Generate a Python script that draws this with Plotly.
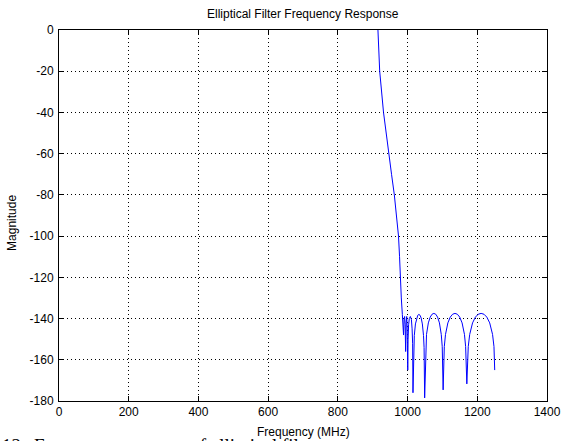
import plotly.graph_objects as go

# Frequency (MHz) and magnitude (dB)
freq_mhz = [
    915, 920, 931, 945, 954, 962, 968, 974, 977, 979, 982, 985,
    987, 988.5, 990, 991.5, 993, 994.5, 996, 997.5, 999, 1000.5,
    1001.5, 1003, 1005, 1008, 1011, 1013, 1014.5, 1015.5,
    1017.6, 1019.3, 1022.6, 1025.9, 1029.2, 1032.5, 1035.8, 1039.1, 1042.4, 1045.7, 1047.4, 1049,
    1051.7, 1054.3, 1059.6, 1064.9, 1070.2, 1075.5, 1080.8, 1086.1, 1091.4, 1096.7, 1099.4, 1102,
    1105.4, 1108.8, 1115.6, 1122.4, 1129.2, 1136, 1142.8, 1149.6, 1156.4, 1163.2, 1166.6, 1170,
    1174.1, 1178.2, 1186.4, 1194.6, 1202.8, 1211, 1219.2, 1227.4, 1235.6, 1243.8, 1247.9, 1250,
]
magnitude_db = [
    0, -20, -40, -60, -70, -80, -90, -100, -110, -120, -130, -138,
    -142, -148, -140, -139, -143, -156, -142, -139, -145, -165,
    -150, -143, -140, -139, -140.5, -145, -152, -176,
    -154, -148.2, -142.6, -139.8, -138.4, -138, -138.4, -139.8, -142.6, -148.2, -154.1, -178.5,
    -153.6, -147.7, -142.1, -139.3, -137.9, -137.5, -137.9, -139.3, -142.1, -147.7, -153.6, -174.6,
    -153.6, -147.7, -142.1, -139.3, -137.9, -137.5, -137.9, -139.3, -142.1, -147.7, -153.6, -171.7,
    -153.6, -147.7, -142.1, -139.3, -137.9, -137.5, -137.9, -139.3, -142.1, -147.7, -153.6, -165,
]

x_ticks = [0, 200, 400, 600, 800, 1000, 1200, 1400]
y_ticks = [0, -20, -40, -60, -80, -100, -120, -140, -160, -180]

title_text = "Elliptical Filter Frequency Response"
x_label = "Frequency (MHz)"
y_label = "Magnitude"
caption_num = "12."
caption_text = "Frequency response of elliptical filter"

FONT = "Liberation Sans, Arial, sans-serif"
SERIF = "Liberation Serif, Times New Roman, serif"

fig = go.Figure()
fig.add_trace(go.Scatter(
    x=freq_mhz, y=magnitude_db, mode="lines",
    line=dict(color="#0000ff", width=1),
    showlegend=False, hoverinfo="skip",
))

axis_common = dict(
    showline=True, linecolor="black", linewidth=1, mirror="allticks",
    ticks="inside", ticklen=5, tickcolor="black", tickwidth=1,
    showgrid=True, gridcolor="black", gridwidth=1, griddash="1px,3px",
    zeroline=False,
    tickfont=dict(family=FONT, size=12, color="black"),
)

fig.update_xaxes(range=[0, 1400], tickvals=x_ticks, ticktext=[str(v) for v in x_ticks],
                 **axis_common)
fig.update_yaxes(range=[-180, 0], tickvals=y_ticks, ticktext=[str(v) for v in y_ticks],
                 ticklabelstandoff=2, **axis_common)

fig.update_layout(
    width=573, height=441,
    margin=dict(l=59, r=15, t=30, b=40),
    paper_bgcolor="white", plot_bgcolor="white",
    font=dict(family=FONT, size=12, color="black"),
    annotations=[
        dict(text=title_text, xref="paper", yref="paper", x=0.5, y=1,
             yshift=16, xanchor="center", yanchor="middle", showarrow=False,
             font=dict(family=FONT, size=12, color="black")),
        dict(text=x_label, xref="paper", yref="paper", x=0.5, y=0,
             yshift=-31, xanchor="center", yanchor="middle", showarrow=False,
             font=dict(family=FONT, size=12, color="black")),
        dict(text=y_label, xref="paper", yref="paper", x=0, y=0.48,
             xshift=-47, xanchor="center", yanchor="middle", textangle=-90,
             showarrow=False, font=dict(family=FONT, size=12, color="black")),
        dict(text=caption_num, xref="paper", yref="paper", x=0, y=0,
             xshift=-59, yshift=-32, xanchor="left", yanchor="top", showarrow=False,
             font=dict(family=SERIF, size=19, color="black")),
        dict(text=caption_text, xref="paper", yref="paper", x=0, y=0,
             xshift=-27, yshift=-32, xanchor="left", yanchor="top", showarrow=False,
             font=dict(family=SERIF, size=19, color="black")),
    ],
)

fig.write_html("out.html")
